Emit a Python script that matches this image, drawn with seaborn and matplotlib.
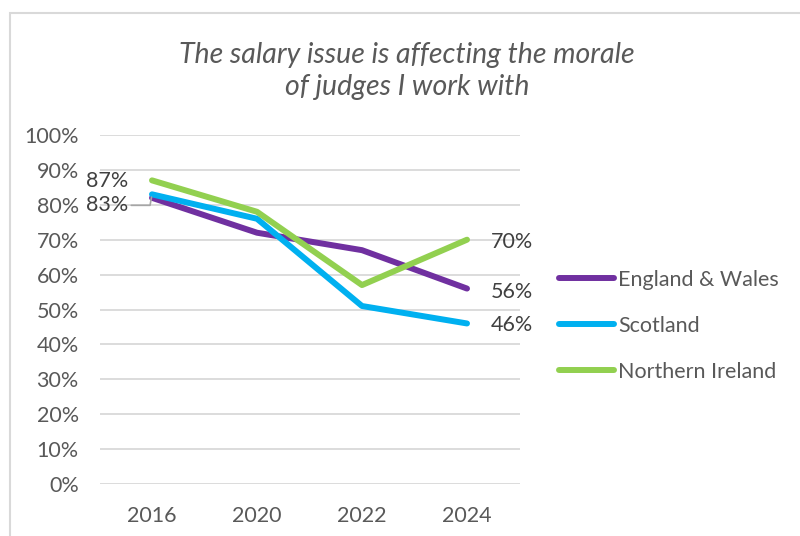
import matplotlib
matplotlib.use("Agg")
import matplotlib.pyplot as plt
import seaborn as sns
import pandas as pd
from matplotlib.patches import Rectangle

# Survey years and share of judges agreeing (%)
years = ["2016", "2020", "2022", "2024"]
england_wales = [82, 72, 67, 56]
scotland = [83, 76, 51, 46]
northern_ireland = [87, 78, 57, 70]
series_names = ["England & Wales", "Scotland", "Northern Ireland"]
colors = ["#7030A0", "#00B0F0", "#92D050"]
title = "The salary issue is affecting the morale\nof judges I work with"

df = pd.DataFrame({
    "year": years * 3,
    "pos": list(range(len(years))) * 3,
    "value": england_wales + scotland + northern_ireland,
    "series": [s for s in series_names for _ in years],
})

sns.set_theme(style="white")
plt.rcParams["font.family"] = ["Lato", "DejaVu Sans"]
text_color = "#595959"
fs = 15.5

fig = plt.figure(figsize=(8, 5.36), dpi=100)
ax = fig.add_axes([99.5 / 800, 52 / 536, 420 / 800, 349 / 536])

# Chart area border
fig.patches.append(Rectangle((10 / 800, -0.02), 1.0, (536 - 13) / 536 + 0.02,
                             transform=fig.transFigure, fill=False,
                             edgecolor="#d9d9d9", linewidth=1.5))

sns.lineplot(data=df, x="pos", y="value", hue="series", palette=colors,
             hue_order=series_names, linewidth=4.3, ax=ax, legend=True,
             solid_capstyle="round")

ax.set_xlim(-0.5, 3.5)
ax.set_ylim(0, 100)
ax.set_yticks(range(0, 101, 10))
ax.set_yticklabels([f"{v}%" for v in range(0, 101, 10)])
ax.set_xticks(range(len(years)))
ax.set_xticklabels(years)
ax.yaxis.grid(True, color="#d9d9d9", linewidth=1.3)
ax.set_axisbelow(True)
for sp in ax.spines.values():
    sp.set_visible(False)
ax.tick_params(axis="y", length=0, pad=15, labelsize=fs, labelcolor=text_color)
ax.tick_params(axis="x", length=0, pad=16, labelsize=fs, labelcolor=text_color)
ax.set_xlabel("")
ax.set_ylabel("")

# Value labels at the first and last points
lab_kw = dict(fontsize=fs, color="#404040", va="center")
ax.annotate(f"{northern_ireland[0]}%", xy=(0, northern_ireland[0]),
            xytext=(-24, -1), textcoords="offset pixels", ha="right", **lab_kw)
ax.annotate(f"{scotland[0]}%", xy=(0, scotland[0]),
            xytext=(-24, -11), textcoords="offset pixels", ha="right",
            arrowprops=dict(arrowstyle="-", color="#a6a6a6", lw=1.2,
                            connectionstyle="angle,angleA=0,angleB=80,rad=0",
                            shrinkA=0, shrinkB=2),
            **lab_kw)
for vals, dy in [(northern_ireland, -2), (england_wales, -3), (scotland, -2)]:
    ax.annotate(f"{vals[-1]}%", xy=(3, vals[-1]), xytext=(24, dy),
                textcoords="offset pixels", ha="left", **lab_kw)

leg = ax.legend(frameon=False, loc="upper left",
                bbox_to_anchor=(559 / 800, 1 - 270 / 536),
                bbox_transform=fig.transFigure, fontsize=fs,
                handlelength=2.55, handletextpad=0.2, labelspacing=1.2,
                borderpad=0, borderaxespad=0)
for t in leg.get_texts():
    t.set_color(text_color)
for h in leg.get_lines():
    h.set_linewidth(4.3)
    h.set_solid_capstyle("round")

fig.text(407 / 800, 1 - 71 / 536, title, ha="center", va="center",
         fontsize=20.5, style="italic", color=text_color, linespacing=1.3)

fig.savefig("out.png", dpi=100)
